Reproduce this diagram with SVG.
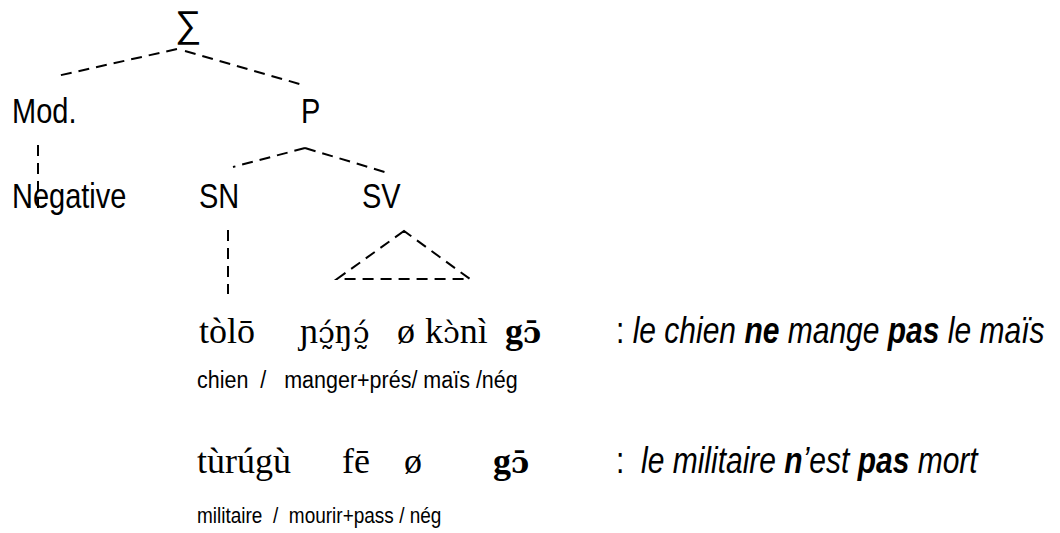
<svg xmlns="http://www.w3.org/2000/svg" width="1060" height="533" viewBox="0 0 1060 533">
<style>
.s{font-family:"Liberation Sans",Arial,sans-serif;fill:#000}
.t{font-family:"Liberation Serif","Times New Roman",serif;font-size:36px;fill:#000}
.d{font-family:"DejaVu Serif",serif;font-size:30px}
.b{font-weight:bold}
.i{font-style:italic}
.c{fill:none;stroke:#000;stroke-width:2;stroke-dasharray:11 7}
</style>
<rect width="1060" height="533" fill="#fff"/>
<g id="connectors">
<line class="c" x1="177" y1="49" x2="57" y2="76"/>
<line class="c" x1="185" y1="51" x2="303" y2="85"/>
<line class="c" x1="38" y1="145" x2="38" y2="208"/>
<line class="c" x1="305" y1="148" x2="233" y2="167"/>
<line class="c" x1="305" y1="148" x2="388" y2="173"/>
<line class="c" x1="228" y1="230" x2="228" y2="294"/>
<path class="c" d="M404 231 L337 279 L470 279 Z"/>
</g>
<g id="sigma"><text class="s" x="175" y="37" font-size="37">∑</text></g>
<g id="mod"><text class="s" transform="translate(12,123) scale(1,1.22)" font-size="29">Mod.</text></g>
<g id="p"><text class="s" transform="translate(301,123) scale(1,1.22)" font-size="29">P</text></g>
<g id="negative"><text class="s" transform="translate(12,208) scale(1,1.22)" font-size="29">Negative</text></g>
<g id="sn"><text class="s" transform="translate(199,208) scale(1,1.22)" font-size="29">SN</text></g>
<g id="sv"><text class="s" transform="translate(362,208) scale(1,1.22)" font-size="29">SV</text></g>
<g id="sentence1">
<text class="t" x="199" y="343">tòlō</text>
<text class="t" x="300" y="343">ɲ<tspan class="d">ɔ̰́</tspan>ŋ<tspan class="d">ɔ̰́</tspan></text>
<text class="t" x="397" y="343">ø</text>
<text class="t" x="425" y="343">k<tspan class="d">ɔ̀</tspan>nì</text>
<text class="t b" x="505" y="343">g<tspan class="d">ɔ̄</tspan></text>
<text class="s" transform="translate(616,343) scale(1,1.2)" font-size="30">: <tspan class="i">le chien </tspan><tspan class="i b">ne</tspan><tspan class="i"> mange </tspan><tspan class="i b">pas</tspan><tspan class="i"> le maïs</tspan></text>
</g>
<g id="gloss1"><text class="s" transform="translate(197,388) scale(1,1.15)" font-size="21.5" xml:space="preserve">chien  /   manger+prés/ maïs /nég</text></g>
<g id="sentence2">
<text class="t" x="197" y="473">tùrúgù</text>
<text class="t" x="342" y="473">fē</text>
<text class="t" x="404" y="473">ø</text>
<text class="t b" x="493" y="473">g<tspan class="d">ɔ̄</tspan></text>
<text class="s" transform="translate(616,473) scale(1,1.2)" font-size="30" xml:space="preserve">:  <tspan class="i">le militaire </tspan><tspan class="i b">n</tspan><tspan class="i">’est </tspan><tspan class="i b">pas</tspan><tspan class="i"> mort</tspan></text>
</g>
<g id="gloss2"><text class="s" transform="translate(197,523) scale(1,1.15)" font-size="19" xml:space="preserve">militaire  /  mourir+pass / nég</text></g>
</svg>
